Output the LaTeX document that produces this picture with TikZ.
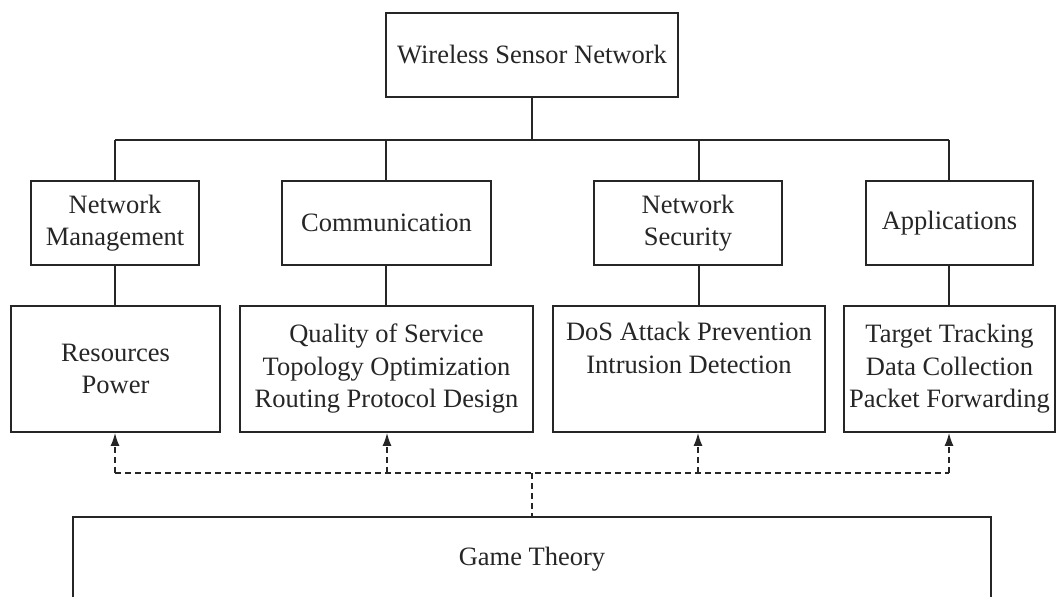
\documentclass[tikz,border=0pt]{standalone}
\usepackage{fontspec}
\setmainfont{Liberation Serif}
\usetikzlibrary{arrows.meta}
\begin{document}
\begin{tikzpicture}[x=1pt,y=-1pt,
  box/.style={draw=black!85, line width=1.6pt, inner sep=0pt, align=center,
    font=\fontsize{26.5}{32.5}\selectfont, text=black!85},
  tree/.style={draw=black!85, line width=1.6pt},
  dline/.style={draw=black!85, line width=1.8pt, dash pattern=on 6pt off 4pt},
  link/.style={dline, -{Latex[length=13pt,width=9pt]}}]
\useasboundingbox (0,0) rectangle (1058,597);
\fill[white] (0,0) rectangle (1058,597);
% top
\node[box, minimum width=292pt, minimum height=84pt] (wsn) at (532,55) {Wireless Sensor Network};
% middle row
\node[box, minimum width=168pt, minimum height=84pt] (nm) at (115,223) {Network\\Management};
\node[box, minimum width=209pt, minimum height=84pt] (com) at (386.5,223) {Communication};
\node[box, minimum width=188pt, minimum height=84pt] (ns) at (688,223) {Network\\Security};
\node[box, minimum width=167pt, minimum height=84pt] (app) at (949.5,223) {Applications};
% bottom row
\node[box, minimum width=209pt, minimum height=126pt] (res) at (115.5,369) {Resources\\Power};
\node[box, minimum width=293pt, minimum height=126pt] (qos) at (386.5,369) {Quality of Service\\Topology Optimization\\Routing Protocol Design};
\node[box, minimum width=272pt, minimum height=126pt] (dos) at (689,369) {DoS Attack Prevention\\Intrusion Detection\\\strut};
\node[box, minimum width=211pt, minimum height=126pt] (tgt) at (949.5,369) {Target Tracking\\Data Collection\\Packet Forwarding};
% game theory
\node[box, minimum width=918pt, minimum height=84pt, anchor=north] (gt) at (532,516) {Game Theory};
% tree connectors
\coordinate (b1) at (115,140);
\coordinate (b2) at (386,140);
\coordinate (b3) at (699,140);
\coordinate (b4) at (949,140);
\draw[tree] (wsn.south) -- (wsn.south |- b1);
\draw[tree] (b1) -- (b4);
\draw[tree] (b1) -- (b1 |- nm.north);
\draw[tree] (b2) -- (b2 |- com.north);
\draw[tree] (b3) -- (b3 |- ns.north);
\draw[tree] (b4) -- (b4 |- app.north);
\draw[tree] (b1 |- nm.south) -- (b1 |- res.north);
\draw[tree] (b2 |- com.south) -- (b2 |- qos.north);
\draw[tree] (b3 |- ns.south) -- (b3 |- dos.north);
\draw[tree] (b4 |- app.south) -- (b4 |- tgt.north);
% dashed links
\coordinate (d1) at (115,473);
\coordinate (d2) at (387,473);
\coordinate (d3) at (698,473);
\coordinate (d4) at (949,473);
\coordinate (dc) at (532,473);
\draw[dline] (d1) -- (d4);
\draw[dline] (dc) -- (dc |- gt.north);
\draw[link] (d1) -- (d1 |- res.south);
\draw[link] (d2) -- (d2 |- qos.south);
\draw[link] (d3) -- (d3 |- dos.south);
\draw[link] (d4) -- (d4 |- tgt.south);
\end{tikzpicture}
\end{document}
